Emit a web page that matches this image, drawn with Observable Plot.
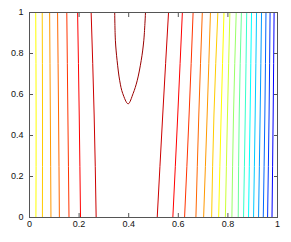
<!DOCTYPE html>
<html><head><meta charset="utf-8">
<script src="https://cdn.jsdelivr.net/npm/d3@7"></script>
<script src="https://cdn.jsdelivr.net/npm/@observablehq/plot@0.6"></script>
<style>html,body{margin:0;padding:0;background:#fff}</style>
</head><body><div id="chart"></div>
<script>
// Tick values and labels
const xTicks = [0, 0.2, 0.4, 0.6, 0.8, 1];
const xTickLabels = ["0", "0.2", "0.4", "0.6", "0.8", "1"];
const yTicks = [0, 0.2, 0.4, 0.6, 0.8, 1];
const yTickLabels = ["0", "0.2", "0.4", "0.6", "0.8", "1"];

// Heights at which each (near-vertical) contour was read
const sampleY = [0, 0.5, 1];

// Contours left of the bowl: level value and x at sampleY
const leftLevels = [0.625, 0.675, 0.725, 0.775, 0.825, 0.875, 0.925];
const leftX = [
  [0.0259, 0.0267, 0.0251],
  [0.0521, 0.0525, 0.0513],
  [0.0865, 0.0841, 0.0812],
  [0.1205, 0.1172, 0.1132],
  [0.1593, 0.1548, 0.1504],
  [0.2057, 0.2005, 0.1940],
  [0.2688, 0.2607, 0.2486]
];

// Contours right of the bowl
const rightLevels = [0.925, 0.875, 0.825, 0.775, 0.725, 0.675, 0.625, 0.575, 0.525,
  0.475, 0.425, 0.375, 0.325, 0.275, 0.225, 0.175, 0.125];
const rightX = [
  [0.5150, 0.5372, 0.5606],
  [0.5780, 0.5978, 0.6164],
  [0.6253, 0.6435, 0.6597],
  [0.6710, 0.6827, 0.6968],
  [0.7021, 0.7163, 0.7296],
  [0.7344, 0.7437, 0.7595],
  [0.7627, 0.7728, 0.7842],
  [0.7898, 0.7983, 0.8080],
  [0.8161, 0.8226, 0.8335],
  [0.8416, 0.8456, 0.8545],
  [0.8630, 0.8700, 0.8759],
  [0.8832, 0.8895, 0.8953],
  [0.9034, 0.9100, 0.9155],
  [0.9236, 0.9300, 0.9357],
  [0.9426, 0.9490, 0.9535],
  [0.9600, 0.9660, 0.9701],
  [0.9778, 0.9825, 0.9863]
];

// The closed-top "bowl" contour (highest level)
const bowlLevel = 0.975;
const bowlX = [0.3436, 0.3464, 0.3533, 0.3638, 0.3759, 0.3977, 0.4179, 0.4341, 0.4503, 0.4608, 0.4677];
const bowlY = [1, 0.862, 0.765, 0.667, 0.605, 0.5545, 0.605, 0.667, 0.765, 0.862, 1];

// Build table
const rows = [];
let id = 0;
leftLevels.forEach((lv, i) => { sampleY.forEach((y, j) => rows.push({id, level: lv, x: leftX[i][j], y})); id++; });
rightLevels.forEach((lv, i) => { sampleY.forEach((y, j) => rows.push({id, level: lv, x: rightX[i][j], y})); id++; });
const bowlRows = bowlX.map((x, j) => ({id, level: bowlLevel, x, y: bowlY[j]}));

const xLab = new Map(xTicks.map((t, i) => [t, xTickLabels[i]]));
const yLab = new Map(yTicks.map((t, i) => [t, yTickLabels[i]]));

const font = "Liberation Sans, Arial, Helvetica, sans-serif";
const axisStroke = "#555";

const chart = Plot.plot({
  width: 291,
  height: 242,
  marginLeft: 29,
  marginRight: 14,
  marginTop: 12,
  marginBottom: 25,
  style: {fontFamily: font, fontSize: "9px", background: "#fff", color: "#111"},
  x: {domain: [0, 1]},
  y: {domain: [0, 1]},
  color: {
    type: "linear",
    domain: [0, 0.125, 0.375, 0.625, 0.875, 1],
    range: ["#000080", "#0000ff", "#00ffff", "#ffff00", "#ff0000", "#800000"],
    interpolate: "rgb"
  },
  marks: [
    Plot.line(rows, {x: "x", y: "y", z: "id", stroke: "level", strokeWidth: 1, curve: "natural"}),
    Plot.line(bowlRows, {x: "x", y: "y", stroke: "level", strokeWidth: 1, curve: "catmull-rom"}),
    Plot.frame({stroke: axisStroke}),
    Plot.axisX(xTicks, {anchor: "bottom", tickSize: -4, tickPadding: 7.5, stroke: axisStroke, tickFormat: d => xLab.get(d), label: null, fontSize: 9}),
    Plot.axisX(xTicks, {anchor: "top", tickSize: -4, stroke: axisStroke, tickFormat: () => "", label: null}),
    Plot.axisY(yTicks, {anchor: "left", tickSize: -4, tickPadding: 10, stroke: axisStroke, tickFormat: d => yLab.get(d), label: null, fontSize: 9}),
    Plot.axisY(yTicks, {anchor: "right", tickSize: -4, stroke: axisStroke, tickFormat: () => "", label: null})
  ]
});
document.getElementById("chart").appendChild(chart);
</script>
</body></html>
